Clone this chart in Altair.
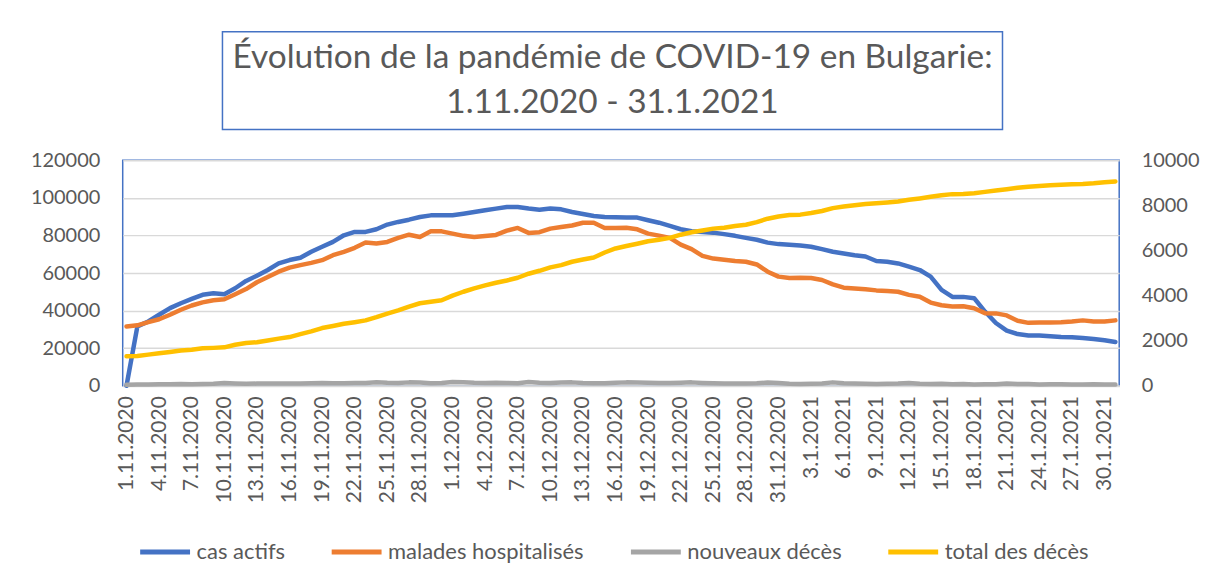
import altair as alt
import pandas as pd

# categories: one entry per day, 1.11.2020 .. 31.1.2021
dates = [f"{d.day}.{d.month}.{d.year}" for d in pd.date_range("2020-11-01", "2021-01-31")]
label_dates = dates[::3]

cas_actifs = [
    0, 31600, 34200, 37800, 41300, 43900, 46200, 48400, 49200, 48700, 51900, 55800, 58600, 61600, 65100, 66900,
    68100, 71300, 74000, 76600, 80100, 81900, 81900, 83300, 85800, 87200, 88400, 89800, 90700, 90700, 90800,
    91600, 92500, 93400, 94300, 95100, 95100, 94300, 93700, 94300, 93900, 92500, 91400, 90400, 89800, 89700,
    89600, 89500, 88100, 86800, 85100, 83300, 82200, 81900, 81500, 80700, 79800, 78700, 77700, 76200, 75400,
    75000, 74700, 74000, 72700, 71300, 70400, 69500, 68800, 66400, 66000, 65100, 63400, 61600, 58100, 51000,
    47300, 47300, 46600, 39500, 33400, 29300, 27500, 26800, 26700, 26300, 25900, 25800, 25400, 24900, 24200, 23300,
]
malades_hospitalises = [
    2630, 2680, 2820, 2950, 3150, 3370, 3560, 3700, 3790, 3840, 4060, 4290, 4590, 4820, 5060, 5240,
    5350, 5450, 5570, 5790, 5940, 6120, 6350, 6310, 6380, 6560, 6700, 6600, 6850, 6850, 6750,
    6650, 6600, 6640, 6690, 6880, 7000, 6780, 6810, 6970, 7040, 7110, 7230, 7230, 7000, 7000,
    7010, 6940, 6750, 6660, 6560, 6260, 6060, 5760, 5640, 5590, 5530, 5500, 5380, 5060, 4840,
    4780, 4790, 4780, 4690, 4500, 4350, 4310, 4280, 4230, 4200, 4170, 4030, 3950, 3690, 3570,
    3520, 3530, 3440, 3220, 3210, 3120, 2880, 2790, 2810, 2810, 2820, 2850, 2900, 2850, 2850, 2900,
]
nouveaux_deces = [
    40, 55, 60, 70, 65, 75, 70, 80, 85, 120, 100, 90, 95, 100, 95, 100,
    105, 110, 120, 115, 110, 120, 125, 155, 130, 120, 150, 145, 115, 120, 170,
    160, 130, 125, 130, 120, 115, 165, 130, 120, 145, 150, 120, 110, 115, 130,
    150, 145, 130, 120, 120, 135, 150, 125, 110, 100, 105, 100, 110, 145, 120,
    90, 80, 85, 100, 150, 110, 95, 90, 80, 85, 95, 120, 90, 80, 85,
    70, 75, 60, 65, 70, 95, 80, 75, 60, 65, 70, 60, 55, 65, 60, 55,
]
total_deces = [
    1310, 1320, 1380, 1440, 1500, 1560, 1600, 1660, 1680, 1705, 1820, 1900, 1930, 2010, 2090, 2160,
    2290, 2410, 2560, 2650, 2750, 2820, 2900, 3040, 3200, 3340, 3510, 3660, 3730, 3790, 4000,
    4170, 4320, 4450, 4570, 4670, 4790, 4970, 5100, 5250, 5350, 5500, 5600, 5690, 5910, 6090,
    6200, 6300, 6410, 6480, 6560, 6700, 6810, 6890, 6970, 7010, 7090, 7140, 7260, 7410, 7510,
    7570, 7590, 7660, 7750, 7880, 7950, 8010, 8060, 8100, 8130, 8170, 8250, 8310, 8380, 8450,
    8500, 8510, 8540, 8600, 8660, 8720, 8780, 8830, 8860, 8890, 8920, 8940, 8950, 8980, 9030, 9060,
]

series_names = ["cas actifs", "malades hospitalisés", "nouveaux décès", "total des décès"]
series_colors = ["#4472C4", "#ED7D31", "#A5A5A5", "#FFC000"]
title_lines = ["Évolution de la pandémie de COVID-19 en Bulgarie:", "1.11.2020 - 31.1.2021"]
left_ticks = [0, 20000, 40000, 60000, 80000, 100000, 120000]
right_ticks = [0, 2000, 4000, 6000, 8000, 10000]

rows = []
for name, vals in zip(series_names, [cas_actifs, malades_hospitalises, nouveaux_deces, total_deces]):
    for d, v in zip(dates, vals):
        rows.append({"date": d, "series": name, "value": v})
df = pd.DataFrame(rows)

FONT = "Lato"
TXT = "#595959"
BLUE = "#4472C4"

x_enc = alt.X(
    "date:O", sort=dates, title=None,
    scale=alt.Scale(type="point", padding=0.35),
    axis=alt.Axis(values=label_dates, labelAngle=-90, ticks=False, domain=True,
                  domainColor="#D9D9D9", domainWidth=2, labelFont=FONT, labelFontSize=21,
                  labelColor=TXT, labelPadding=10, grid=False),
)
color_enc = alt.Color(
    "series:N", scale=alt.Scale(domain=series_names, range=series_colors),
    legend=alt.Legend(title=None, orient="none", legendX=15, legendY=494, direction="horizontal",
                      columns=4, symbolType="stroke", symbolSize=2500, symbolStrokeWidth=5,
                      labelFont=FONT, labelFontSize=22, labelColor=TXT, columnPadding=36,
                      labelOffset=4, labelLimit=0),
)
line_kw = dict(strokeWidth=4.5, strokeJoin="round", strokeCap="round")

left = alt.Chart(df).transform_filter(alt.datum.series == "cas actifs").mark_line(**line_kw).encode(
    x=x_enc,
    y=alt.Y("value:Q", title=None, scale=alt.Scale(domain=[0, 120000], nice=False),
            axis=alt.Axis(values=left_ticks, format="d", grid=True, gridColor="#D9D9D9", gridWidth=1.5,
                          domain=False, ticks=False, labelFont=FONT, labelFontSize=20,
                          labelColor=TXT, labelPadding=23)),
    color=color_enc,
)
right = alt.Chart(df).transform_filter(alt.datum.series != "cas actifs").mark_line(**line_kw).encode(
    x=x_enc,
    y=alt.Y("value:Q", title=None, scale=alt.Scale(domain=[0, 10000], nice=False),
            axis=alt.Axis(orient="right", values=right_ticks, format="d", grid=False, domain=False,
                          ticks=False, labelFont=FONT, labelFontSize=20, labelColor=TXT,
                          labelPadding=22)),
    color=color_enc,
)
main = alt.layer(left, right).resolve_scale(y="independent").properties(
    width=999, height=226, view=alt.ViewBackground(stroke=BLUE, strokeWidth=1.5)
)

spacer = alt.Chart(pd.DataFrame({"s": [0]})).mark_point(opacity=0).properties(
    width=98, height=98, view=alt.ViewBackground(stroke="transparent")
)

title_box = alt.Chart(pd.DataFrame({"row": [0, 1], "line": title_lines})).mark_text(
    font=FONT, fontSize=33.5, color=TXT
).encode(
    y=alt.Y("row:O", axis=None, scale=alt.Scale(padding=0.6)),
    text="line:N",
).properties(width=782, height=98, view=alt.ViewBackground(stroke=BLUE, strokeWidth=1.5))

top = alt.hconcat(spacer, title_box, spacing=0)
chart = alt.vconcat(top, main, spacing=19, center=False).properties(
    padding={"left": 21, "top": 22, "right": 0, "bottom": 0}
)

chart.save("out.html", embed_options={"renderer": "svg", "actions": False})
